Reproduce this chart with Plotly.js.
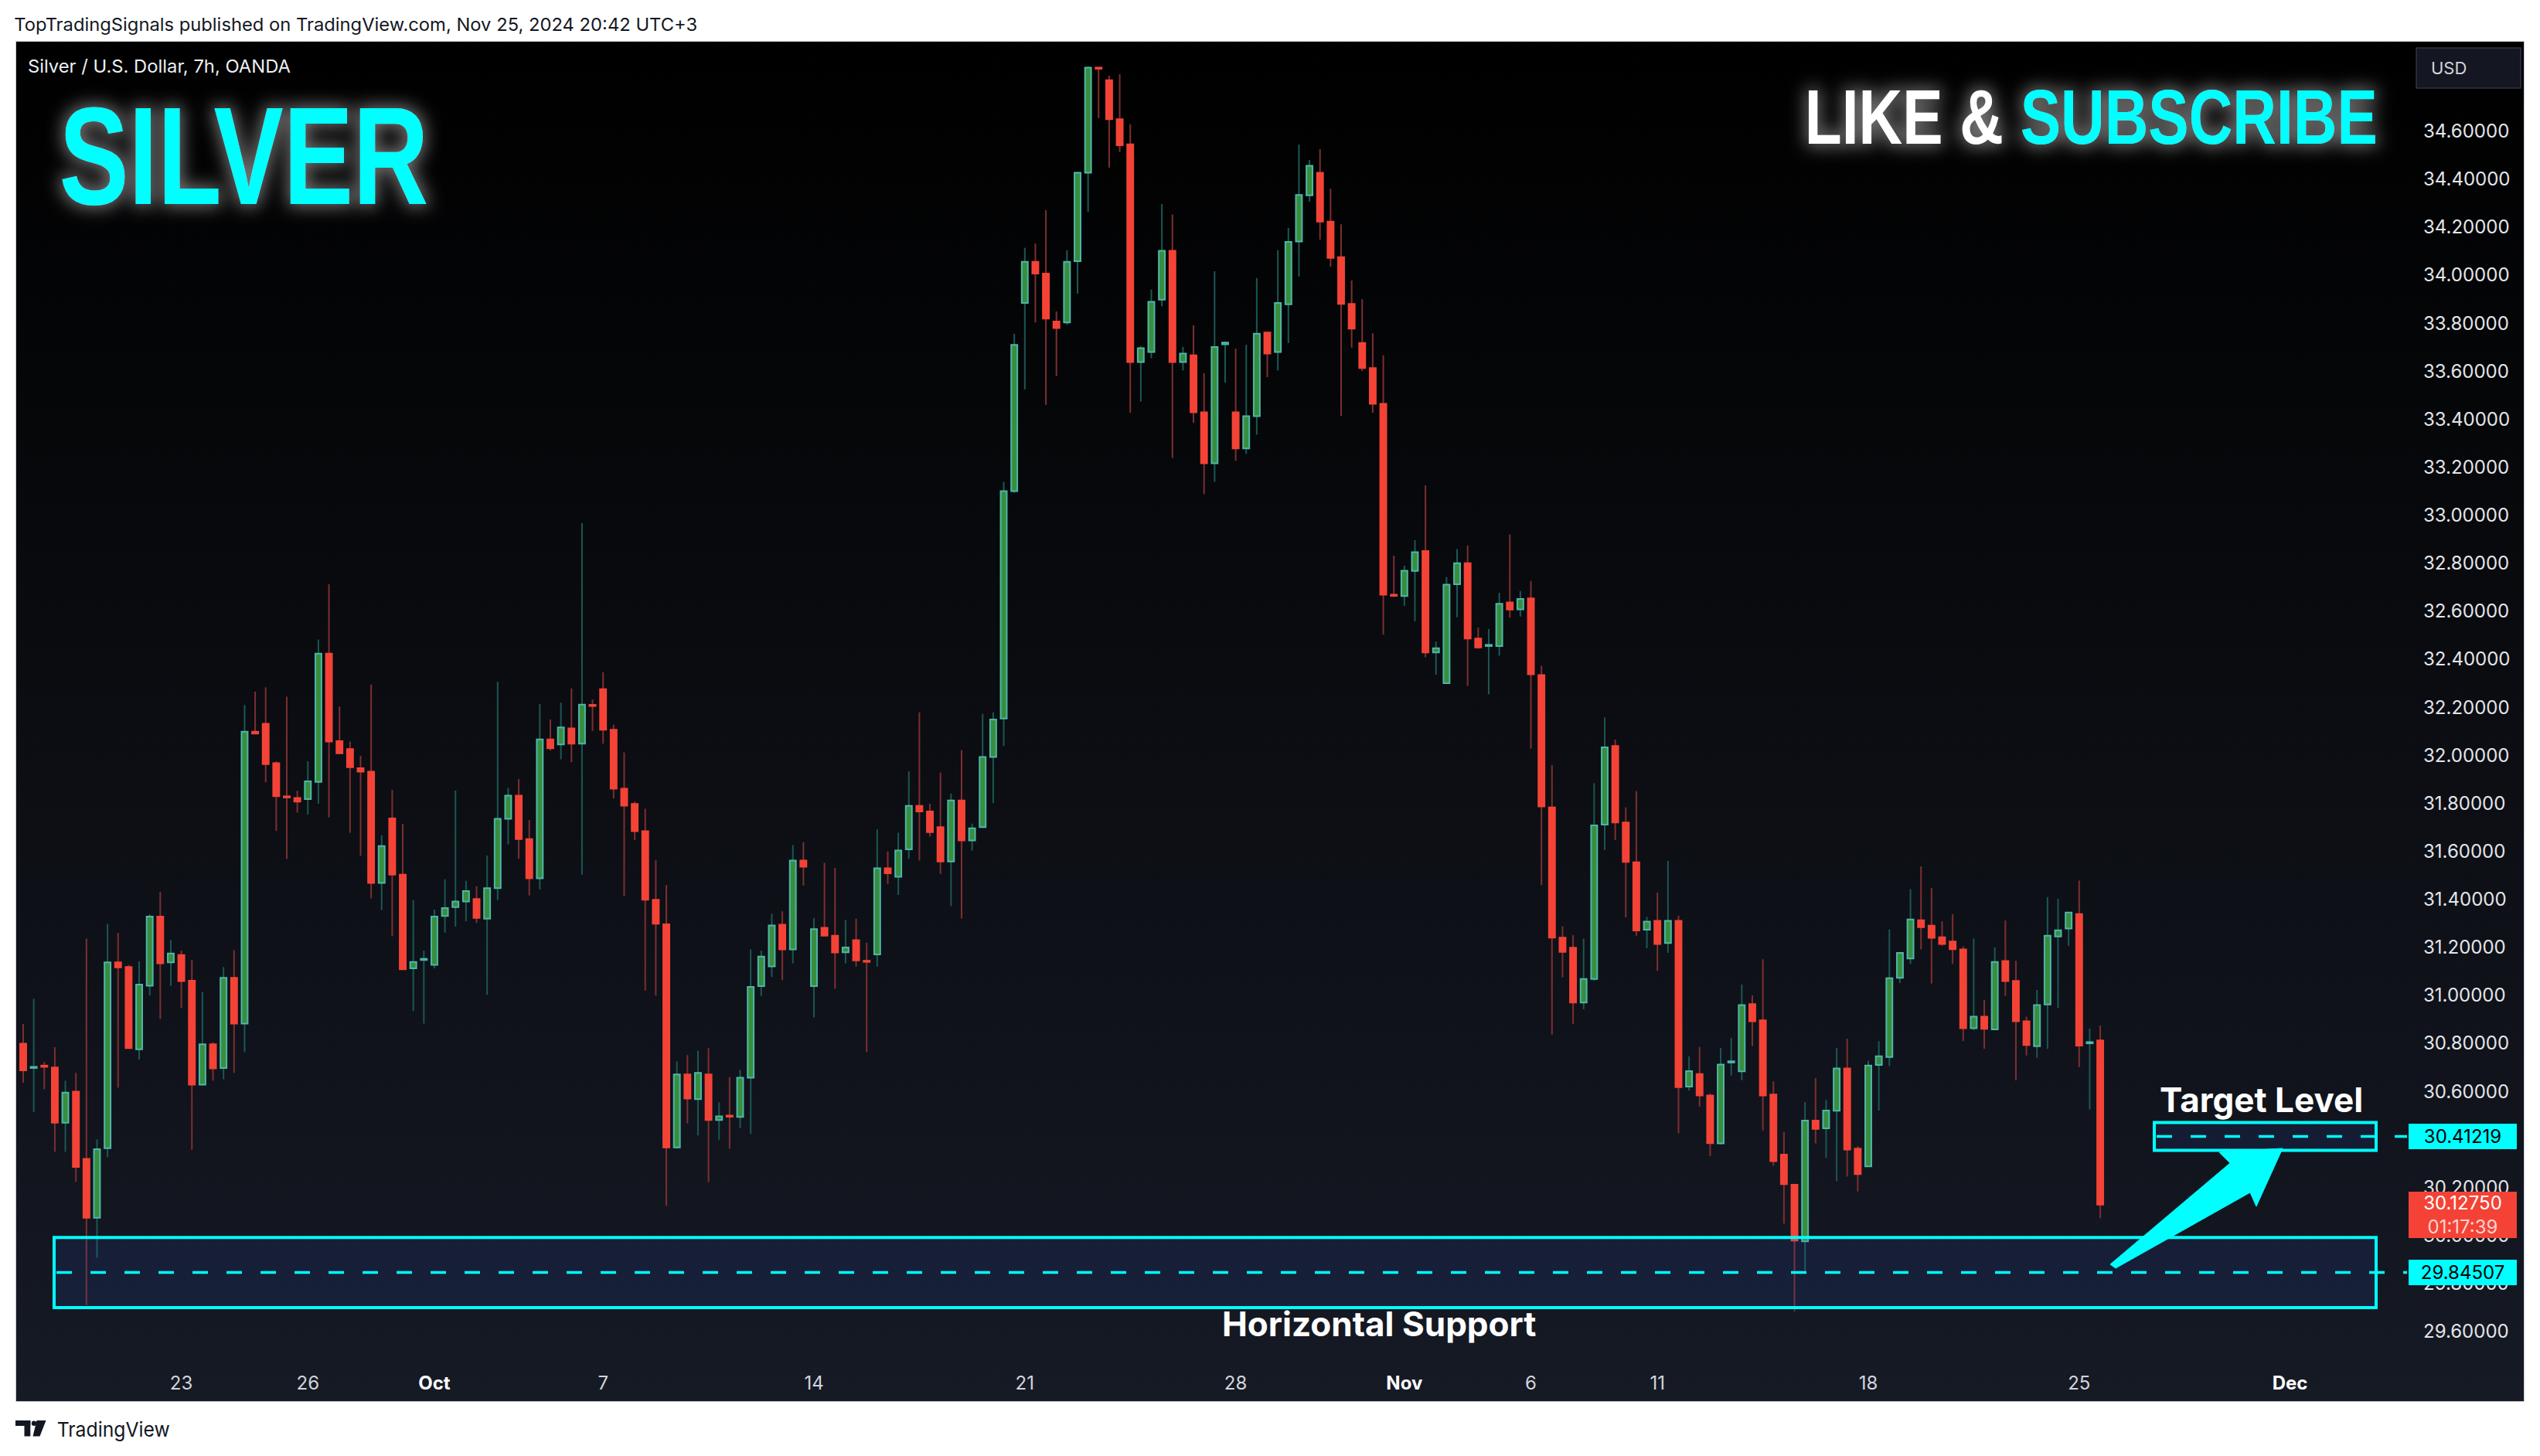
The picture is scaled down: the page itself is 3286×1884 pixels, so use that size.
<!DOCTYPE html>
<html>
<head>
<meta charset="utf-8">
<script src="https://cdn.plot.ly/plotly-3.0.1.min.js"></script>
<style>
html,body{margin:0;padding:0;background:#ffffff;width:3286px;height:1884px;overflow:hidden}
#frame{position:absolute;left:20px;top:53px;width:3246px;height:1761px;box-sizing:border-box;border:1.5px solid #c9ccd2;
background:linear-gradient(to bottom,#000000 0%,#050608 25%,#0b0d12 50%,#10131b 75%,#161a25 100%)}
#chart{position:absolute;left:0;top:0;width:3286px;height:1884px}
</style>
</head>
<body>
<svg width="0" height="0" style="position:absolute">
  <defs>
    <filter id="glow" x="-15%" y="-60%" width="130%" height="220%">
      <feMorphology in="SourceAlpha" operator="dilate" radius="3" result="d"/>
      <feGaussianBlur in="d" stdDeviation="11" result="b"/>
      <feFlood flood-color="#ffffff" flood-opacity="0.45" result="f"/>
      <feComposite in="f" in2="b" operator="in" result="g"/>
      <feMerge><feMergeNode in="g"/><feMergeNode in="SourceGraphic"/></feMerge>
    </filter>
  </defs>
</svg>
<div id="frame"></div>
<div id="chart"></div>
<script>
// ---------------- DATA (Silver / USD, 7h, OANDA) ----------------
const open = [
30.798,30.697,30.707,30.699,30.469,30.599,30.319,30.073,30.363,31.137,
31.118,30.775,31.040,31.328,31.137,31.168,31.061,30.628,30.796,30.697,
31.073,30.882,32.098,32.131,31.967,31.829,31.822,31.817,31.889,32.423,
32.059,32.026,31.946,31.932,31.468,31.737,31.503,31.112,31.147,31.127,
31.330,31.367,31.391,31.401,31.319,31.446,31.735,31.832,31.651,31.487,
32.066,32.045,32.112,32.048,32.210,32.275,32.106,31.861,31.797,31.684,
31.398,31.296,30.366,30.670,30.567,30.670,30.480,30.499,30.493,30.657,
31.038,31.120,31.294,31.191,31.561,31.038,31.281,31.248,31.179,31.230,
31.144,31.170,31.529,31.494,31.608,31.789,31.766,31.701,31.557,31.812,
31.645,31.701,31.993,32.153,33.100,33.884,34.056,34.007,33.807,33.803,
34.058,34.427,34.865,34.812,34.650,34.545,33.638,33.680,33.898,34.102,
33.638,33.666,33.429,33.216,33.712,33.429,33.278,33.413,33.761,33.680,
33.879,34.140,34.333,34.427,34.223,34.075,33.880,33.718,33.613,33.464,
32.669,32.663,32.768,32.851,32.428,32.300,32.712,32.800,32.486,32.455,
32.455,32.637,32.608,32.654,32.334,31.783,31.240,31.198,30.970,31.068,
31.711,32.039,31.720,31.554,31.273,31.310,31.218,31.310,30.620,30.672,
30.583,30.383,30.720,30.683,30.963,30.896,30.587,30.336,30.211,29.975,
30.478,30.446,30.519,30.695,30.361,30.287,30.710,30.743,31.073,31.153,
31.313,31.290,31.242,31.224,31.191,30.863,30.911,30.858,31.143,31.060,
30.892,30.788,30.962,31.245,31.278,31.338,30.800,30.812
];
const high = [
30.880,30.985,30.722,30.784,30.644,30.677,31.236,30.400,31.297,31.260,
31.127,31.141,31.338,31.431,31.231,31.186,31.147,31.014,30.804,31.118,
31.188,32.209,32.265,32.283,31.975,32.244,31.852,31.975,32.482,32.712,
32.203,32.057,31.998,32.295,31.667,31.856,31.714,31.396,31.186,31.357,
31.483,31.853,31.477,31.454,31.582,32.306,31.864,31.901,31.730,32.213,
32.149,32.219,32.278,32.967,32.232,32.346,32.127,32.012,31.807,31.777,
31.562,31.459,30.724,30.751,30.769,30.780,30.554,30.659,30.690,31.191,
31.186,31.340,31.350,31.626,31.638,31.322,31.552,31.531,31.314,31.319,
31.219,31.691,31.599,31.677,31.933,32.179,31.798,31.928,31.840,32.021,
31.715,32.172,32.179,33.139,33.756,34.114,34.132,34.271,33.849,34.104,
34.431,34.870,34.866,34.831,34.837,34.629,33.705,33.940,34.297,34.253,
33.701,33.791,33.592,34.016,33.724,33.694,33.710,33.988,33.761,34.104,
34.197,34.544,34.480,34.525,34.360,34.212,33.978,33.900,33.758,33.666,
32.831,32.790,32.896,33.124,32.474,32.742,32.859,32.874,32.532,32.526,
32.677,32.920,32.684,32.726,32.373,31.960,31.287,31.251,31.236,31.883,
32.157,32.065,31.783,31.851,31.327,31.428,31.560,31.331,30.746,30.785,
30.591,30.781,30.822,31.045,31.000,31.150,30.641,30.430,30.215,30.555,
30.655,30.564,30.781,30.819,30.372,30.727,30.809,31.274,31.180,31.442,
31.537,31.447,31.308,31.338,31.204,31.237,30.980,31.199,31.312,31.144,
30.911,31.022,31.409,31.402,31.345,31.478,30.861,30.874
];
const low = [
30.636,30.513,30.609,30.348,30.348,30.223,29.709,29.907,30.326,30.615,
30.780,30.732,30.999,30.901,31.040,30.948,30.356,30.624,30.644,30.650,
30.677,30.763,32.088,31.887,31.685,31.568,31.761,31.753,31.798,31.741,
32.006,31.677,31.581,31.404,31.355,31.246,31.106,30.934,30.882,31.112,
31.261,31.286,31.309,31.301,31.002,31.396,31.629,31.569,31.416,31.441,
32.020,31.983,31.971,31.503,32.101,32.048,31.820,31.413,31.646,31.020,
30.999,30.123,30.361,30.466,30.416,30.222,30.398,30.361,30.447,30.422,
30.997,31.076,31.063,31.133,31.457,30.908,31.245,31.027,31.133,31.120,
30.764,31.120,31.464,31.418,31.569,31.562,31.661,31.506,31.371,31.320,
31.603,31.696,31.801,32.039,33.093,33.524,33.803,33.459,33.580,33.793,
33.923,34.264,34.654,34.448,34.513,33.427,33.473,33.654,33.870,33.239,
33.603,33.385,33.088,33.139,33.552,33.227,33.255,33.336,33.575,33.603,
33.717,33.994,34.306,34.148,34.035,33.413,33.698,33.601,33.427,32.503,
32.659,32.622,32.558,32.408,32.335,32.297,32.575,32.289,32.443,32.254,
32.415,32.573,32.578,32.028,31.459,30.836,31.075,30.881,30.942,31.060,
31.605,31.647,31.324,31.248,31.196,31.102,31.177,30.426,30.603,30.537,
30.330,30.379,30.665,30.646,30.789,30.437,30.290,30.049,29.683,29.852,
30.383,30.322,30.226,30.245,30.183,30.285,30.520,30.705,31.051,31.131,
31.191,31.049,31.206,31.131,30.809,30.854,30.777,30.854,30.998,30.646,
30.749,30.739,30.777,30.947,31.206,30.701,30.524,30.071
];
const close = [
30.687,30.702,30.702,30.469,30.595,30.285,30.073,30.359,31.137,31.116,
30.780,31.045,31.328,31.133,31.174,31.059,30.628,30.796,30.695,31.073,
30.882,32.098,32.090,31.963,31.829,31.824,31.807,31.891,32.423,32.057,
32.008,31.950,31.932,31.468,31.622,31.503,31.108,31.139,31.152,31.328,
31.363,31.391,31.434,31.322,31.446,31.735,31.832,31.651,31.487,32.066,
32.029,32.116,32.048,32.211,32.205,32.106,31.861,31.790,31.684,31.398,
31.298,30.366,30.670,30.570,30.677,30.480,30.496,30.494,30.657,31.035,
31.161,31.291,31.191,31.561,31.536,31.276,31.248,31.178,31.199,31.145,
31.139,31.529,31.508,31.603,31.789,31.766,31.680,31.557,31.812,31.645,
31.696,31.993,32.149,33.100,33.710,34.056,34.007,33.819,33.780,34.056,
34.427,34.865,34.860,34.650,34.541,33.638,33.696,33.889,34.102,33.638,
33.673,33.429,33.216,33.701,33.719,33.278,33.413,33.756,33.673,33.884,
34.139,34.334,34.456,34.223,34.072,33.880,33.777,33.613,33.464,32.669,
32.664,32.769,32.846,32.428,32.446,32.711,32.800,32.486,32.449,32.460,
32.631,32.607,32.651,32.337,31.787,31.240,31.181,30.970,31.068,31.708,
32.033,31.720,31.556,31.270,31.307,31.214,31.310,30.617,30.684,30.583,
30.384,30.711,30.725,30.959,30.892,30.583,30.309,30.213,29.978,30.478,
30.443,30.520,30.695,30.357,30.255,30.707,30.746,31.071,31.177,31.316,
31.284,31.239,31.214,31.192,30.863,30.911,30.860,31.139,31.059,30.892,
30.793,30.959,31.248,31.271,31.345,30.790,30.805,30.1275
];
const timeTickIdx    = [15, 27, 39, 55, 75, 95, 115, 131, 143, 155, 175, 195, 215];
const timeTickLabels = ['23','26','Oct','7','14','21','28','Nov','6','11','18','25','Dec'];
const monthLabels    = ['Oct','Nov','Dec'];
// price-scale labels visible in the reference (30.40000 and 34.80000 are hidden there)
const priceTicks     = [29.6, 29.8, 30.0, 30.2, 30.6, 30.8, 31.0, 31.2, 31.4, 31.6, 31.8, 32.0,
                        32.2, 32.4, 32.6, 32.8, 33.0, 33.2, 33.4, 33.6, 33.8, 34.0, 34.2, 34.4, 34.6];
const supportLevel   = 29.84507;
const targetLevel    = 30.41219;
const lastPrice      = 30.1275;
const countdown      = '01:17:39';
const headerText     = 'TopTradingSignals published on TradingView.com, Nov 25, 2024 20:42 UTC+3';
const symbolText     = 'Silver / U.S. Dollar, 7h, OANDA';

// ---------------- GEOMETRY HELPERS (layout only) ----------------
const W = 3286, H = 1884;
const PL = 20, PR = 3114, PT = 54, PB = 1760;
const PX = x => (x - PL) / (PR - PL);
const PY = y => (PB - y) / (PB - PT);
const BAR0 = 30, BARSTEP = 13.64;           // pixel position of first bar, bar spacing
const xRange = [(PL - BAR0) / BARSTEP, (PR - BAR0) / BARSTEP];
const yRange = [29.4799, 34.9725];

// ---------------- TRACES ----------------
const n = close.length;
const xs = Array.from({length: n}, (_, i) => i);
const up = close.map((c, i) => c >= open[i]);
const UP_FILL = '#388e3c', UP_BORDER = '#4db6ac', UP_WICK = '#1a5752';
const DN_FILL = '#f44336', DN_BORDER = '#f44336', DN_WICK = '#7c2e30';

const wicks = {
  type: 'bar', x: xs, base: low, y: high.map((h, i) => h - low[i]),
  width: 0.15, marker: {color: up.map(u => u ? UP_WICK : DN_WICK), line: {width: 0}},
  hoverinfo: 'skip', showlegend: false
};
const bodies = {
  type: 'bar', x: xs,
  base: open.map((o, i) => Math.min(o, close[i])),
  y: open.map((o, i) => Math.abs(close[i] - o)),
  width: 0.58,
  marker: {color: up.map(u => u ? UP_FILL : DN_FILL),
           line: {color: up.map(u => u ? UP_BORDER : DN_BORDER), width: 2}},
  hoverinfo: 'skip', showlegend: false
};

// ---------------- SHAPES ----------------
const CYAN = '#00ffff';
const arrowPts = [[2730,1636],[2885,1505],[2871,1491],[2953,1486],[2919,1561],[2911,1543],[2737,1641]];
const arrowPath = 'M ' + arrowPts.map(p => PX(p[0]).toFixed(5) + ',' + PY(p[1]).toFixed(5)).join(' L ') + ' Z';
const logoPath = 'M ' + [[47.5,1838],[59.5,1838],[51.5,1858.5],[42.5,1858.5]].map(p => PX(p[0]).toFixed(5) + ',' + PY(p[1]).toFixed(5)).join(' L ') + ' Z';

const shapes = [
  {type:'rect', xref:'paper', yref:'y', x0:PX(70), x1:PX(3074), y0:supportLevel-0.146, y1:supportLevel+0.146,
   line:{color:CYAN, width:4}, fillcolor:'rgba(50,110,255,0.10)', layer:'above'},
  {type:'line', xref:'paper', yref:'y', x0:PX(73), x1:1, y0:supportLevel, y1:supportLevel,
   line:{color:CYAN, width:3.5, dash:'20px,24px'}, layer:'above'},
  {type:'rect', xref:'paper', yref:'y', x0:PX(2787), x1:PX(3074), y0:targetLevel-0.058, y1:targetLevel+0.058,
   line:{color:CYAN, width:4}, fillcolor:'rgba(50,110,255,0.10)', layer:'above'},
  {type:'line', xref:'paper', yref:'y', x0:PX(2790), x1:1, y0:targetLevel, y1:targetLevel,
   line:{color:CYAN, width:3.5, dash:'20px,24px'}, layer:'above'},
  {type:'path', xref:'paper', yref:'paper', path:arrowPath, fillcolor:CYAN, line:{color:CYAN, width:1}, layer:'above'},
  // USD button
  {type:'rect', xref:'paper', yref:'paper', x0:PX(3126), x1:PX(3261), y0:PY(114), y1:PY(62),
   fillcolor:'#141722', line:{color:'#2f3341', width:1.5}, layer:'above'},
  // TradingView logo
  {type:'rect', xref:'paper', yref:'paper', x0:PX(20), x1:PX(39.3), y0:PY(1845), y1:PY(1838), fillcolor:'#131722', line:{width:0}},
  {type:'rect', xref:'paper', yref:'paper', x0:PX(31.5), x1:PX(39.3), y0:PY(1858.5), y1:PY(1838), fillcolor:'#131722', line:{width:0}},
  {type:'circle', xref:'paper', yref:'paper', x0:PX(40.8), x1:PX(47.2), y0:PY(1845), y1:PY(1838.6), fillcolor:'#131722', line:{width:0}},
  {type:'path', xref:'paper', yref:'paper', path:logoPath, fillcolor:'#131722', line:{width:0}}
];

// ---------------- ANNOTATIONS ----------------
const base = {xref:'paper', yref:'paper', showarrow:false};
const annotations = [
  Object.assign({}, base, {x:PX(21), y:PY(31), xanchor:'left', yanchor:'middle', text:headerText,
    font:{family:'Inter, Roboto, sans-serif', size:23.5, color:'#131722'}}),
  Object.assign({}, base, {x:PX(36), y:PY(86), xanchor:'left', yanchor:'middle', text:symbolText,
    font:{family:'Inter, Roboto, sans-serif', size:23.5, color:'#eceff3'}}),
  Object.assign({}, base, {x:PX(315), y:PY(201), xanchor:'center', yanchor:'middle', text:'<b>SILVER</b>',
    font:{family:'"Liberation Sans Narrow", "Liberation Sans", sans-serif', size:180, color:CYAN}}),
  Object.assign({}, base, {x:PX(2705.5), y:PY(151), xanchor:'center', yanchor:'middle',
    text:'<b>LIKE &amp; <span style="color:#00ffff">SUBSCRIBE</span></b>',
    font:{family:'"Liberation Sans Narrow", "Liberation Sans", sans-serif', size:100, color:'#ffffff'}}),
  Object.assign({}, base, {x:PX(2925), y:PY(1423), xanchor:'center', yanchor:'middle', text:'<b>Target Level</b>',
    font:{family:'Inter, Roboto, sans-serif', size:44, color:'#ffffff'}}),
  Object.assign({}, base, {x:PX(1784), y:PY(1713), xanchor:'center', yanchor:'middle', text:'<b>Horizontal Support</b>',
    font:{family:'Inter, Roboto, sans-serif', size:44, color:'#ffffff'}}),
  Object.assign({}, base, {x:PX(3143), y:PY(88), xanchor:'left', yanchor:'middle', text:'USD',
    font:{family:'Inter, Roboto, sans-serif', size:22, color:'#d1d4dc'}}),
  {xref:'paper', yref:'y', x:1, y:targetLevel, xanchor:'left', yanchor:'middle', xshift:2, showarrow:false,
    text:targetLevel.toFixed(5), bgcolor:CYAN, borderpad:2, borderwidth:0, width:136, height:29,
    font:{family:'Inter, Roboto, sans-serif', size:24, color:'#000000'}},
  {xref:'paper', yref:'y', x:1, y:lastPrice, xanchor:'left', yanchor:'middle', xshift:2, yshift:-13, showarrow:false,
    text:lastPrice.toFixed(5) + '<br><span style="color:#fcd3cf">' + countdown + '</span>',
    bgcolor:'#f44336', borderpad:2, borderwidth:0, width:136, height:56,
    font:{family:'Inter, Roboto, sans-serif', size:24, color:'#ffffff'}},
  {xref:'paper', yref:'y', x:1, y:supportLevel, xanchor:'left', yanchor:'middle', xshift:2, showarrow:false,
    text:supportLevel.toFixed(5), bgcolor:CYAN, borderpad:2, borderwidth:0, width:136, height:29,
    font:{family:'Inter, Roboto, sans-serif', size:24, color:'#000000'}},
  Object.assign({}, base, {x:PX(68), y:PY(1849), xanchor:'left', yanchor:'middle', text:'TradingView',
    font:{family:'Inter, Roboto, sans-serif', size:26, color:'#131722'}})
];

// ---------------- LAYOUT ----------------
const layout = {
  width: W, height: H,
  margin: {l: PL, r: W - PR, t: PT, b: H - PB, pad: 0},
  paper_bgcolor: 'rgba(0,0,0,0)', plot_bgcolor: 'rgba(0,0,0,0)',
  barmode: 'overlay', showlegend: false, dragmode: false,
  xaxis: {
    range: xRange, showgrid: false, zeroline: false, showline: false, ticks: '',
    tickmode: 'array', tickvals: timeTickIdx,
    ticktext: timeTickLabels.map(t => monthLabels.includes(t) ? '<b><span style="color:#ffffff">' + t + '</span></b>' : t),
    tickfont: {family: 'Inter, Roboto, sans-serif', size: 24, color: '#d1d4dc'},
    ticklabelstandoff: 13, automargin: false, fixedrange: true
  },
  yaxis: {
    range: yRange, side: 'right', showgrid: false, zeroline: false, showline: false, ticks: '',
    tickmode: 'array', tickvals: priceTicks, ticktext: priceTicks.map(v => v.toFixed(5)),
    tickfont: {family: 'Inter, Roboto, sans-serif', size: 24, color: '#e3e5ea'},
    ticklabelstandoff: 20, automargin: false, fixedrange: true
  },
  shapes: shapes,
  annotations: annotations
};

Plotly.newPlot('chart', [wicks, bodies], layout, {staticPlot: true, displayModeBar: false}).then(() => {
  const fix = (i, len, glow) => {
    const g = document.querySelector('.annotation[data-index="' + i + '"]');
    if (!g) return;
    const t = g.querySelector('text.annotation-text');
    if (t && len) { t.setAttribute('textLength', len); t.setAttribute('lengthAdjust', 'spacingAndGlyphs'); }
    const tg = g.querySelector('.annotation-text-g');
    if (tg && glow) tg.setAttribute('filter', 'url(#glow)');
  };
  fix(0, 884, false);
  fix(1, 340, false);
  fix(2, 478, true);
  fix(3, 741, true);
  fix(10, 146, false);
});
</script>
</body>
</html>
